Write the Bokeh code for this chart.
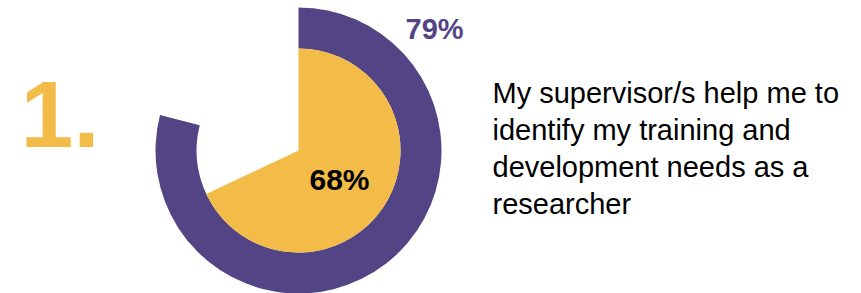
import math
from bokeh.plotting import figure
from bokeh.models import ColumnDataSource
from bokeh.core.properties import value
from bokeh.embed import file_html
from bokeh.resources import INLINE

# ---- data ----
item_number = "1."
outer_share = [0.79]     # purple ring
inner_share = [0.68]     # yellow pie
outer_label = ["79%"]
inner_label = ["68%"]
statement_lines = [
    "My supervisor/s help me to",
    "identify my training and",
    "development needs as a",
    "researcher",
]

PURPLE = "#534585"
YELLOW = "#F3BC48"
FONT = "Liberation Sans"

W, H = 853, 293
p = figure(width=W, height=H, x_range=(0, W), y_range=(0, H),
           output_backend="svg", toolbar_location=None, min_border=0)
p.axis.visible = False
p.grid.visible = False
p.outline_line_color = None
p.background_fill_color = "white"
p.border_fill_color = "white"

def Y(y_px, fs=0):
    # baseline correction observed for alphabetic baseline in svg output
    return H - (y_px - 0.36 * fs)

cx, cy = 298, Y(150)
r_out, r_in = 143, 102
start = math.pi / 2

p.annular_wedge(x=[cx], y=[cy], inner_radius=r_in, outer_radius=r_out,
                start_angle=start,
                end_angle=[start - 2 * math.pi * s for s in outer_share],
                direction="clock", fill_color=PURPLE, line_color=None)
p.wedge(x=[cx], y=[cy], radius=r_in, start_angle=start,
        end_angle=[start - 2 * math.pi * s for s in inner_share],
        direction="clock", fill_color=YELLOW, line_color=None)

p.text(x=[20], y=[Y(148, 95)], text=[item_number], text_font=value(FONT),
       text_font_style="bold", text_font_size="95px", text_color=YELLOW,
       text_align="left", text_baseline="alphabetic")

p.text(x=[405], y=[Y(39, 29)], text=outer_label, text_font=value(FONT),
       text_font_style="bold", text_font_size="29px", text_color=PURPLE,
       text_align="left", text_baseline="alphabetic")

p.text(x=[339], y=[Y(190, 30)], text=inner_label, text_font=value(FONT),
       text_font_style="bold", text_font_size="30px", text_color="black",
       text_align="center", text_baseline="alphabetic")

n = len(statement_lines)
src = ColumnDataSource(dict(
    x=[492] * n,
    y=[Y(103 + 37 * i, 29) for i in range(n)],
    t=statement_lines,
))
p.text(x="x", y="y", text="t", source=src, text_font=value(FONT),
       text_font_size="29px", text_color="black",
       text_align="left", text_baseline="alphabetic")

open("out.html", "w").write(file_html(p, INLINE))
